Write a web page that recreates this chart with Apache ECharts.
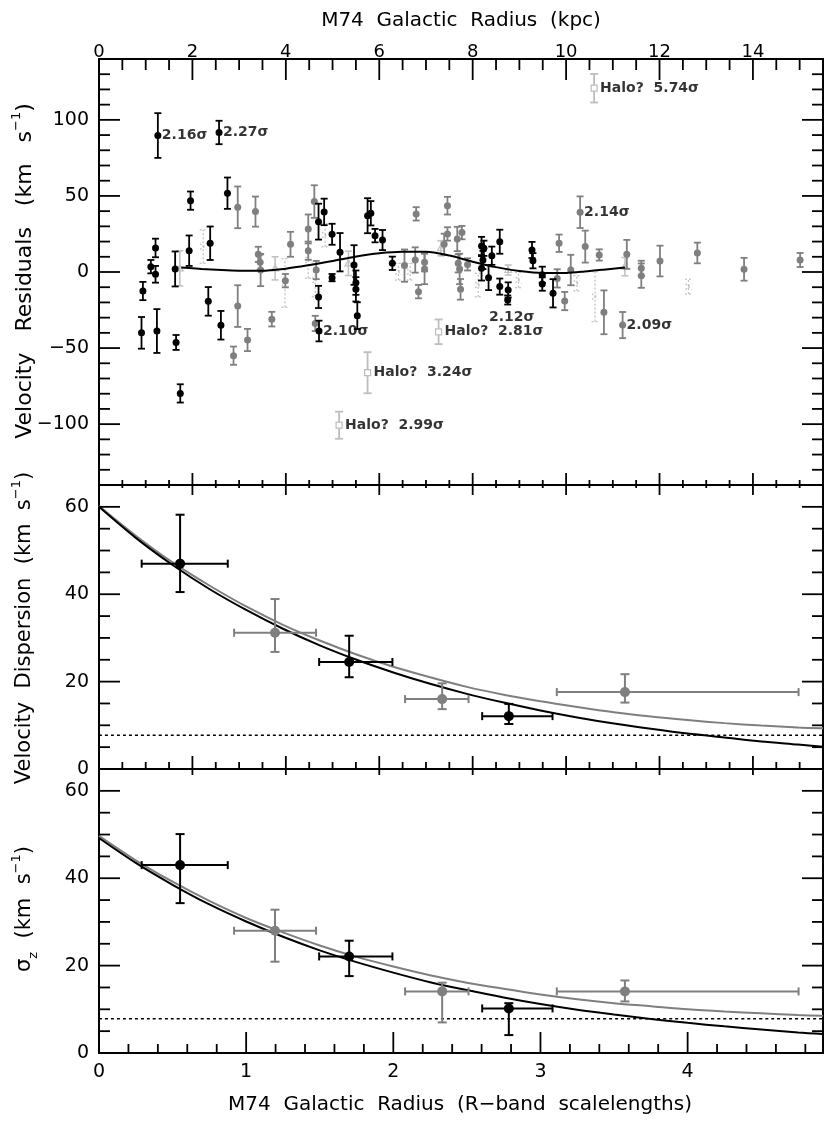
<!DOCTYPE html>
<html><head><meta charset="utf-8">
<script src="https://cdn.jsdelivr.net/npm/echarts@6/dist/echarts.min.js"></script>
<style>html,body{margin:0;padding:0;background:#fff}#c{width:830px;height:1124px}</style>
</head><body><div id="c"></div>
<script>
// ---------------- DATA ----------------
// Top panel: velocity residuals vs radius (kpc): [x_kpc, residual, error]
const blackResid = [
 [0.91,-40,10.4],[0.94,-12.5,6],[1.11,3.5,4.4],[1.21,15.8,6.1],[1.21,-1.5,5.5],[1.24,-38.8,14.4],
 [1.26,89.7,14.7],[1.63,2,11.5],[1.65,-46.3,4.9],[1.74,-79.8,6],[1.93,14,10],[1.96,46.9,6],
 [2.34,-19.3,9.4],[2.38,18.9,11],[2.57,91.7,7.7],[2.61,-35,9.4],[2.75,51.8,10.3],
 [4.70,33.1,11.8],[4.82,39.5,8.7],[4.99,24.8,6.9],[4.99,-3.7,2.4],[4.70,-16.4,7.3],[4.71,-38.8,6.8],
 [5.16,13,12.6],[5.46,4.6,13],[5.50,-7,8],[5.50,-11.4,8],[5.53,-28.7,8.8],[5.75,37,11.5],[5.82,38.6,8],
 [5.91,23.9,4.4],[6.07,21,6.6],[6.28,5.7,4.4],
 [8.19,17.1,6],[8.24,15.6,5],[8.22,7.9,6],[8.19,2.4,8],[8.34,-3.7,8.2],[8.41,10.7,6],[8.58,19.9,7.9],
 [8.58,-9.6,5.3],[8.76,-11.8,5],[8.75,-18.4,3],[9.27,14.5,5.3],[9.29,7.4,5],[9.49,-1.8,5.3],
 [9.49,-7.9,4.4],[9.72,-14,9.3]
];
const grayResid = [
 [2.97,42.5,13.7],[3.35,39.7,9.9],[2.97,-22.4,13.7],[2.88,-55,6],[3.18,-44.7,7.3],[3.41,11.6,5],
 [3.45,6.4,5],[3.46,1.3,10.6],[3.70,-31,4.8],[3.99,-5.7,4.4],[4.10,18.2,8.2],[4.48,28.3,9.5],
 [4.48,14,6],[4.61,46.3,10.7],[4.65,1.3,6],[4.63,-33.8,5],
 [6.54,4.2,10.6],[6.77,7.9,8.3],[6.79,38.2,4.4],[6.84,-12.9,4.4],[6.97,6.4,6],[6.97,2,10],
 [7.39,18.2,7],[7.46,43.6,5.8],[7.46,25,4.4],[7.67,21.7,8],[7.77,25.9,4.4],[7.69,5.7,6],
 [7.72,2,10],[7.74,-11.4,6.8],[7.89,5,4],
 [9.85,18.9,5.7],[9.81,-4.2,6],[9.97,-19.1,6],[10.1,1.3,10],[10.30,39.3,10.4],[10.41,16.7,10.5],
 [10.71,11.2,3.7],[10.81,-26.5,14.4],[11.21,-34.9,8.6],[11.30,11.6,9.5],[11.61,2.4,5],[11.61,-2.4,8],
 [12.01,7.2,10.1],[12.81,12.5,6.8],[13.81,1.8,7.5],[15.01,7.9,4.6]
];
const lightSolidResid = [
 [1.73,2.4,11.5],[3.77,2.4,7.6],[5.34,5.7,8],[7.32,15.6,5],[8.76,1.3,3.3],[11.26,3.5,6]
];
const lightDottedResid = [
 [2.23,16.7,11],[3.98,-7.2,16],[4.48,7.9,12],[4.63,-5.3,11],[4.84,24.3,7.7],[6.41,0.2,5.5],
 [6.66,0.2,5.5],[8.12,-8.6,7.7],[8.98,-5.3,5],[10.23,-7.4,5],[10.62,-16.2,16.4],[12.62,-9.6,4.9]
];
const haloResid = [
 [10.60,120.8,9.4],[7.27,-39.3,8.1],[5.75,-66.2,13.5],[5.14,-100.7,8.9]
];
const haloLabels = ['Halo?  5.74σ','Halo?  2.81σ','Halo?  3.24σ','Halo?  2.99σ'];
const sigmaLabelPts = [[1.26,89.7],[2.57,91.7],[4.71,-38.8],[10.30,39.3],[11.21,-34.9]];
const sigmaLabels = ['2.16σ','2.27σ','2.10σ','2.14σ','2.09σ'];
const belowLabelPt = [8.75,-18.4];
const belowLabel = '2.12σ';
const residFitX = [1.76,2.2,2.63,3.0,3.48,4.0,4.48,5.0,5.48,6.0,6.5,7.0,7.5,8.0,8.5,9.0,9.5,10.0,10.4,10.8,11.26];
const residFitY = [3.0,2.0,1.3,0.9,0.8,2.2,4.4,7.2,10.0,12.3,13.3,13.3,10.8,6.8,3.2,0.6,-0.7,-0.6,0.3,1.5,3.0];

// Middle & bottom panels (x in R-band scalelengths): [x, y, xlo, xhi, ylo, yhi]
const dispBlack = [[0.551,47.0,0.290,0.875,40.5,58.2],[1.70,24.5,1.496,1.994,21.0,30.5],[2.785,12.1,2.604,3.082,10.3,14.9]];
const dispGray  = [[1.196,31.2,0.918,1.475,26.8,38.9],[2.332,16.0,2.080,2.511,13.7,19.6],[3.574,17.6,3.111,4.754,15.2,21.7]];
const szBlack   = [[0.551,43.0,0.290,0.875,34.3,50.1],[1.70,22.1,1.496,1.994,17.6,25.7],[2.785,10.2,2.604,3.082,4.1,11.4]];
const szGray    = [[1.196,28.0,0.918,1.475,20.9,32.8],[2.332,14.1,2.080,2.511,7.0,16.1],[3.574,14.1,3.111,4.754,11.8,16.6]];
const fitX = [0,0.25,0.5,0.75,1,1.25,1.5,1.75,2,2.25,2.5,2.75,3,3.25,3.5,3.75,4,4.25,4.5,4.75,4.92];
const dispFitBlack = [60,52.9,46.7,41.2,36.4,32.1,28.3,25.0,22.1,19.5,17.2,15.2,13.4,11.8,10.4,9.2,8.1,7.2,6.3,5.6,5.1];
const dispFitGray  = [60.2,53.4,47.3,42.0,37.2,33.0,29.4,26.2,23.4,21.0,18.8,17.0,15.5,14.2,13.0,12.0,11.2,10.5,9.95,9.5,9.3];
const szFitBlack   = [49.2,43.5,38.5,34.0,30.1,26.6,23.5,20.8,18.4,16.2,14.4,12.7,11.2,9.9,8.8,7.8,6.9,6.1,5.4,4.7,4.35];
const szFitGray    = [49.7,44.1,39.2,34.8,30.9,27.6,24.6,22.0,19.8,17.8,16.1,14.7,13.4,12.3,11.4,10.7,10.0,9.5,9.1,8.7,8.5];
const dispFloor = 7.7;
const szFloor = 7.85;

const kpcTickLabels = [0,2,4,6,8,10,12,14];
const rsTickLabels = [0,1,2,3,4];
const residTickLabels = [-100,-50,0,50,100];
const dispTickLabels = [0,20,40,60];

// ---------------- CHART ----------------
const FONT = 'DejaVu Sans';
const KPC_MAX = 15.5, RS_MAX = 4.92;
const BLACK = '#000', GRAY = '#7f7f7f', LIGHT = '#c2c2c2', HALO = '#bdbdbd';
const minus = v => String(v).replace('-', '\u2212');

function steps(min, max, step) { const a=[]; const n=Math.round((max-min)/step); for (let i=0;i<=n;i++) a.push(Math.round((min+i*step)*1000)/1000); return a; }
const isMul = (v, m) => Math.abs(v/m - Math.round(v/m)) < 1e-6;

const xAxes = [], yAxes = [];
function addX(o){ xAxes.push(Object.assign({type:'value', axisLine:{show:false, onZero:false}, axisTick:{show:false}, splitLine:{show:false}, axisLabel:{show:false}}, o)); return xAxes.length-1; }
function addY(o){ yAxes.push(Object.assign({type:'value', axisLine:{show:false, onZero:false}, axisTick:{show:false}, splitLine:{show:false}, axisLabel:{show:false}}, o)); return yAxes.length-1; }

// grid 0
const xK0 = addX({gridIndex:0, position:'top', min:0, max:KPC_MAX, interval:2,
  axisLabel:{show:true, showMaxLabel:false, color:'#000', fontFamily:FONT, fontSize:18, margin:-2}});
const yL0 = addY({gridIndex:0, position:'left', min:-140, max:140,
  axisLabel:{show:true, customValues:residTickLabels, color:'#000', fontFamily:FONT, fontSize:19, margin:10, formatter:minus}});
// grid 1
const xK1 = addX({gridIndex:1, position:'top', min:0, max:KPC_MAX});
const xR1 = addX({gridIndex:1, position:'bottom', min:0, max:RS_MAX});
const yL1 = addY({gridIndex:1, position:'left', min:0, max:65, interval:20,
  axisLabel:{show:true, showMaxLabel:false, color:'#000', fontFamily:FONT, fontSize:19, margin:10}});
// grid 2
const xK2 = addX({gridIndex:2, position:'top', min:0, max:KPC_MAX});
const xR2 = addX({gridIndex:2, position:'bottom', min:0, max:RS_MAX, interval:1,
  axisLabel:{show:true, showMaxLabel:false, color:'#000', fontFamily:FONT, fontSize:19, margin:10}});
const yL2 = addY({gridIndex:2, position:'left', min:0, max:65, interval:20,
  axisLabel:{show:true, showMaxLabel:false, color:'#000', fontFamily:FONT, fontSize:19, margin:10}});

// tick marks drawn through the axes' own scales: [value, side(0 top,1 bottom,2 left,3 right), length]
function tickItems(vals, side, majorEvery, majLen, minLen) {
  const out = [];
  vals.forEach(v => { const len = isMul(v, majorEvery) ? majLen : minLen; if (len > 0) out.push([v, side, len]); });
  return out;
}
function tickSeries(xi, yi, xmax, ymin, ymax, items) {
  return {type:'custom', xAxisIndex:xi, yAxisIndex:yi, data:items, silent:true, clip:false, z:10,
    renderItem: function(params, api) {
      const v = api.value(0), side = api.value(1), len = api.value(2);
      let p, q;
      if (side === 0) { p = api.coord([v, ymax]); q = [p[0], p[1] + len]; }
      else if (side === 1) { p = api.coord([v, ymin]); q = [p[0], p[1] - len]; }
      else if (side === 2) { p = api.coord([0, v]); q = [p[0] + len, p[1]]; }
      else { p = api.coord([xmax, v]); q = [p[0] - len, p[1]]; }
      return {type:'line', shape:{x1:p[0], y1:p[1], x2:q[0], y2:q[1]}, style:{stroke:'#000', lineWidth:1.8}};
    }};
}
const kpcInner = steps(0.5, 15, 0.5);
const rsInner = steps(0.2, 4.8, 0.2);
const residInner = steps(-130, 130, 10);
const dispInner = steps(5, 60, 5);

const ticks0 = [].concat(
  tickItems(kpcInner, 0, 2, 21, 11), tickItems(kpcInner, 1, 2, 12, 5),
  tickItems(residInner, 2, 50, 21, 11), tickItems(residInner, 3, 50, 21, 11));
const ticks1 = [].concat(
  tickItems(kpcInner, 0, 2, 10, 3), tickItems(kpcInner, 1, 2, 13, 7),
  tickItems(dispInner, 2, 20, 21, 11), tickItems(dispInner, 3, 20, 21, 11));
const ticks2 = [].concat(
  tickItems(kpcInner, 0, 2, 6, 0),
  tickItems(dispInner, 2, 20, 21, 11), tickItems(dispInner, 3, 20, 21, 11));
const ticks2b = tickItems(rsInner, 1, 1, 21, 9);

function marker(kind, c, color, r) {
  if (kind === 'circle') return {type:'circle', shape:{cx:c[0], cy:c[1], r:r}, style:{fill:color}};
  if (kind === 'square') return {type:'rect', shape:{x:c[0]-3, y:c[1]-3, width:6, height:6}, style:{fill:'#fff', stroke:color, lineWidth:1.2}};
  if (kind === 'tri') return {type:'polygon', shape:{points:[[c[0],c[1]-3.5],[c[0]-3.5,c[1]+2.5],[c[0]+3.5,c[1]+2.5]]}, style:{fill:'none', stroke:color, lineWidth:1.2}};
  if (kind === 'x') return {type:'group', children:[
    {type:'line', shape:{x1:c[0]-3,y1:c[1]-3,x2:c[0]+3,y2:c[1]+3}, style:{stroke:color, lineWidth:1.2, lineDash:[2,2]}},
    {type:'line', shape:{x1:c[0]-3,y1:c[1]+3,x2:c[0]+3,y2:c[1]-3}, style:{stroke:color, lineWidth:1.2, lineDash:[2,2]}}]};
  return null;
}
function vbarSeries(data, xi, yi, color, o) {
  return {type:'custom', xAxisIndex:xi, yAxisIndex:yi, data:data, z:o.z, clip:false, silent:true,
    renderItem: function(params, api) {
      const x = api.value(0), y = api.value(1), e = api.value(2);
      const c = api.coord([x,y]), lo = api.coord([x,y-e]), hi = api.coord([x,y+e]);
      const w = o.cap;
      const ls = {stroke:color, lineWidth:o.lw, lineDash:o.dash || null};
      const ch = [
        {type:'line', shape:{x1:c[0],y1:lo[1],x2:c[0],y2:hi[1]}, style:ls},
        {type:'line', shape:{x1:c[0]-w,y1:lo[1],x2:c[0]+w,y2:lo[1]}, style:ls},
        {type:'line', shape:{x1:c[0]-w,y1:hi[1],x2:c[0]+w,y2:hi[1]}, style:ls}
      ];
      const m = marker(o.marker, c, color, o.r);
      if (m) ch.push(m);
      return {type:'group', children:ch};
    }};
}
function xybarSeries(data, xi, yi, color, z) {
  return {type:'custom', xAxisIndex:xi, yAxisIndex:yi, data:data, z:z, clip:false, silent:true,
    renderItem: function(params, api) {
      const x = api.value(0), y = api.value(1);
      const c = api.coord([x,y]);
      const xl = api.coord([api.value(2), y]), xh = api.coord([api.value(3), y]);
      const yl = api.coord([x, api.value(4)]), yh = api.coord([x, api.value(5)]);
      const ls = {stroke:color, lineWidth:2};
      const w = 4.5, h = 4;
      return {type:'group', children:[
        {type:'line', shape:{x1:c[0],y1:yl[1],x2:c[0],y2:yh[1]}, style:ls},
        {type:'line', shape:{x1:c[0]-w,y1:yl[1],x2:c[0]+w,y2:yl[1]}, style:ls},
        {type:'line', shape:{x1:c[0]-w,y1:yh[1],x2:c[0]+w,y2:yh[1]}, style:ls},
        {type:'line', shape:{x1:xl[0],y1:c[1],x2:xh[0],y2:c[1]}, style:ls},
        {type:'line', shape:{x1:xl[0],y1:c[1]-h,x2:xl[0],y2:c[1]+h}, style:ls},
        {type:'line', shape:{x1:xh[0],y1:c[1]-h,x2:xh[0],y2:c[1]+h}, style:ls},
        {type:'circle', shape:{cx:c[0], cy:c[1], r:5}, style:{fill:color}}
      ]};
    }};
}
function lineSeries(xs, ys, xi, yi, color, width, z, dash) {
  return {type:'line', xAxisIndex:xi, yAxisIndex:yi, data:xs.map((x,i)=>[x,ys[i]]), smooth:0.3,
    showSymbol:false, symbol:'none', silent:true, z:z,
    lineStyle:{color:color, width:width, type: dash || 'solid'}};
}

const labelFont = {fontFamily:FONT, fontSize:14, fontWeight:'bold', color:'#000'};
const annData = [];
sigmaLabelPts.forEach((p,i)=>annData.push({value:p, label:Object.assign({show:true, position:'right', distance:4, formatter:sigmaLabels[i]}, labelFont)}));
haloResid.forEach((p,i)=>annData.push({value:[p[0],p[1]], label:Object.assign({show:true, position:'right', distance:6, formatter:haloLabels[i]}, labelFont)}));
annData.push({value:belowLabelPt, label:Object.assign({show:true, position:'bottom', distance:10, offset:[4,0], formatter:belowLabel}, labelFont)});

const series = [
  vbarSeries(lightDottedResid, xK0, yL0, LIGHT, {cap:3.5, lw:1.3, dash:[2,2], marker:'x', z:1}),
  vbarSeries(lightSolidResid, xK0, yL0, LIGHT, {cap:3.5, lw:1.6, marker:'tri', z:1}),
  vbarSeries(haloResid, xK0, yL0, HALO, {cap:4, lw:1.8, marker:'square', z:2}),
  vbarSeries(grayResid, xK0, yL0, GRAY, {cap:3.5, lw:1.8, marker:'circle', r:3.5, z:3}),
  lineSeries(residFitX, residFitY, xK0, yL0, BLACK, 2, 4),
  vbarSeries(blackResid, xK0, yL0, BLACK, {cap:3.5, lw:1.8, marker:'circle', r:3.5, z:5}),
  {type:'scatter', xAxisIndex:xK0, yAxisIndex:yL0, data:annData, symbolSize:0, silent:true, z:6},
  tickSeries(xK0, yL0, KPC_MAX, -140, 140, ticks0),
  // middle
  lineSeries(fitX, dispFitGray, xR1, yL1, GRAY, 2, 2),
  lineSeries(fitX, dispFitBlack, xR1, yL1, BLACK, 2, 3),
  lineSeries([0,RS_MAX], [dispFloor,dispFloor], xR1, yL1, BLACK, 1.5, 2, [3,3]),
  xybarSeries(dispGray, xR1, yL1, GRAY, 4),
  xybarSeries(dispBlack, xR1, yL1, BLACK, 5),
  tickSeries(xK1, yL1, KPC_MAX, 0, 65, ticks1),
  // bottom
  lineSeries(fitX, szFitGray, xR2, yL2, GRAY, 2, 2),
  lineSeries(fitX, szFitBlack, xR2, yL2, BLACK, 2, 3),
  lineSeries([0,RS_MAX], [szFloor,szFloor], xR2, yL2, BLACK, 1.5, 2, [3,3]),
  xybarSeries(szGray, xR2, yL2, GRAY, 4),
  xybarSeries(szBlack, xR2, yL2, BLACK, 5),
  tickSeries(xK2, yL2, KPC_MAX, 0, 65, ticks2),
  tickSeries(xR2, yL2, RS_MAX, 0, 65, ticks2b)
];

const gridBase = {left:99, right:7, show:true, borderColor:'#000', borderWidth:2, backgroundColor:'transparent'};
function makeRich(fs) {
  return {sup:{fontSize:13, fontFamily:FONT, verticalAlign:'top', lineHeight:30}, sub:{fontSize:13, fontFamily:FONT, verticalAlign:'bottom', lineHeight:30}, s:{fontSize:fs, fontFamily:FONT, lineHeight:30}};
}
function ytitle(y, text, fs) {
  return {type:'text', x:25, y:y, rotation:Math.PI/2, silent:true,
    style:{text:text, font:fs + 'px "DejaVu Sans"', fill:'#000', align:'center', verticalAlign:'middle', rich:makeRich(fs)}};
}
const option = {
  animation:false,
  backgroundColor:'#fff',
  grid:[Object.assign({top:59, height:426}, gridBase), Object.assign({top:485, height:284}, gridBase), Object.assign({top:769, height:284}, gridBase)],
  xAxis:xAxes, yAxis:yAxes, series:series,
  graphic:[
    {type:'text', x:461, y:21, silent:true, style:{text:'M74  Galactic  Radius  (kpc)', font:'20px "DejaVu Sans"', fill:'#000', align:'center', verticalAlign:'middle'}},
    {type:'text', x:460, y:1105, silent:true, style:{text:'M74  Galactic  Radius  (R\u2212band  scalelengths)', font:'20px "DejaVu Sans"', fill:'#000', align:'center', verticalAlign:'middle'}},
    ytitle(271, 'Velocity   Residuals   (km   s{sup|\u22121})', 22),
    ytitle(628, 'Velocity  Dispersion  (km  s{sup|\u22121})', 21),
    ytitle(909, '{s|\u03c3}{sub|z}  (km  s{sup|\u22121})', 21)
  ]
};
const chart = echarts.init(document.getElementById('c'), null, {renderer:'canvas'});
chart.setOption(option);
</script></body></html>
